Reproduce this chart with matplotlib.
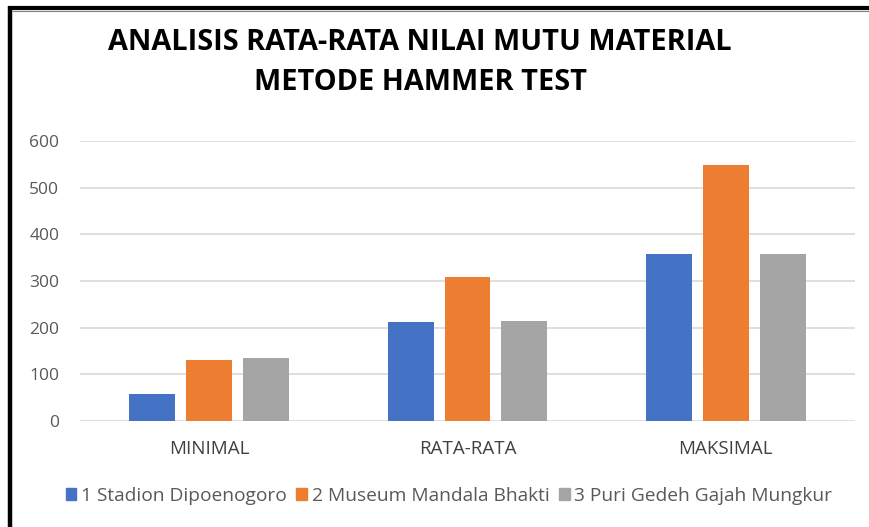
import matplotlib
matplotlib.use("Agg")
import matplotlib.pyplot as plt
import numpy as np
from matplotlib.lines import Line2D
from matplotlib.patches import Patch

categories = ["MINIMAL", "RATA-RATA", "MAKSIMAL"]
series_names = ["1 Stadion Dipoenogoro", "2 Museum Mandala Bhakti", "3 Puri Gedeh Gajah Mungkur"]
stadion = [57, 212, 357]
museum = [130, 308, 549]
puri = [134, 215, 357]
yticks = [0, 100, 200, 300, 400, 500, 600]
title_lines = ["ANALISIS RATA-RATA NILAI MUTU MATERIAL", "METODE HAMMER TEST"]

colors = ["#4472C4", "#ED7D31", "#A5A5A5"]
FONT = ["Open Sans", "DejaVu Sans"]

fig = plt.figure(figsize=(8.69, 5.27), dpi=100)
W, H = 869, 527
ax = fig.add_axes([80 / W, (H - 421) / H, (855 - 80) / W, (421 - 141) / H])

x = np.arange(len(categories))
bw = 0.178
step = 0.22
for i, (vals, c, name) in enumerate(zip([stadion, museum, puri], colors, series_names)):
    ax.bar(x + (i - 1) * step, vals, width=bw, color=c, label=name, zorder=3)

ax.set_xlim(-0.5, 2.5)
ax.set_ylim(0, 600)
ax.set_yticks(yticks)
ax.set_yticklabels([str(v) for v in yticks], fontsize=12.5, color="#595959", family=FONT)
ax.set_xticks(x)
ax.set_xticklabels(categories, fontsize=13.5, color="#404040", family=FONT)
ax.tick_params(axis="y", length=0, pad=15)
ax.tick_params(axis="x", length=0, pad=14)
ax.yaxis.grid(True, color="#D9D9D9", linewidth=1.2, zorder=0)
for s in ax.spines.values():
    s.set_visible(False)

fig.text(420 / W, 1 - 42 / H, title_lines[0], ha="center", va="center",
         fontsize=20.8, fontweight="bold", color="black", family=FONT)
fig.text(420 / W, 1 - 82 / H, title_lines[1], ha="center", va="center",
         fontsize=20.8, fontweight="bold", color="black", family=FONT)

handles = [Patch(color=c) for c in colors]
leg = fig.legend(handles, series_names, loc="center", bbox_to_anchor=(449 / W, 1 - 496 / H),
                 ncol=3, frameon=False, handlelength=0.55, handleheight=0.55,
                 handletextpad=0.25, columnspacing=0.5, prop={"family": FONT, "size": 13.8})
for t in leg.get_texts():
    t.set_color("#595959")

# border (left and top thick black lines, thin gray second line at top)
fig.add_artist(Line2D([10 / W, 10 / W], [0, 1 - 6 / H], color="black", linewidth=3.2,
                      transform=fig.transFigure, solid_capstyle="butt"))
fig.add_artist(Line2D([8 / W, 1], [1 - 8 / H, 1 - 8 / H], color="black", linewidth=3.0,
                      transform=fig.transFigure, solid_capstyle="butt"))
fig.add_artist(Line2D([12 / W, 1], [1 - 11 / H, 1 - 11 / H], color="#808080", linewidth=0.8,
                      transform=fig.transFigure, solid_capstyle="butt"))

fig.savefig("out.png", dpi=100)
